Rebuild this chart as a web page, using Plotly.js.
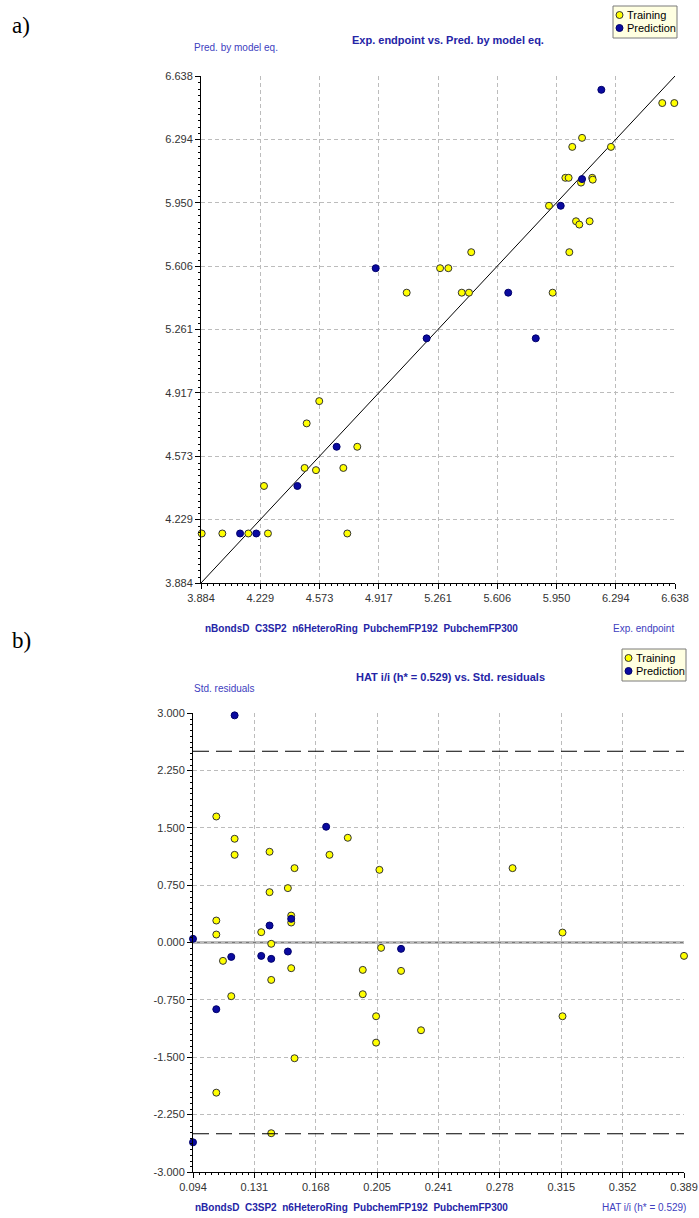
<!DOCTYPE html>
<html><head><meta charset="utf-8">
<script src="https://cdn.plot.ly/plotly-3.0.1.min.js"></script>
<style>html,body{margin:0;padding:0;background:#fff}#chart{width:699px;height:1218px}</style>
</head><body><div id="chart"></div>
<script>
// ---------- Panel a data: Exp. endpoint vs. Pred. by model eq. ----------
const trainA_exp  = [3.888, 4.008, 4.159, 4.273, 4.734, 4.250, 4.486, 4.552, 4.711, 4.792, 4.498, 4.571,
                     5.079, 5.273, 5.321, 5.399, 5.441, 5.454, 5.927, 5.906, 6.024, 6.063, 6.082, 6.142,
                     6.001, 6.020, 6.092, 6.157, 6.160, 6.041, 6.098, 6.266, 6.564, 6.634];
const trainA_pred = [4.153, 4.153, 4.153, 4.153, 4.153, 4.411, 4.509, 4.497, 4.509, 4.624, 4.751, 4.872,
                     5.461, 5.594, 5.594, 5.461, 5.461, 5.681, 5.461, 5.933, 5.681, 5.849, 5.831, 5.849,
                     6.085, 6.085, 6.059, 6.085, 6.075, 6.253, 6.302, 6.253, 6.491, 6.491];
const predA_exp   = [4.111, 4.205, 4.444, 4.672, 4.899, 5.195, 5.669, 5.829, 5.974, 6.098, 6.210];
const predA_pred  = [4.153, 4.153, 4.411, 4.624, 5.594, 5.213, 5.461, 5.213, 5.933, 6.078, 6.563];
const ticksA      = ["3.884", "4.229", "4.573", "4.917", "5.261", "5.606", "5.950", "6.294", "6.638"];

// ---------- Panel b data: HAT i/i vs. Std. residuals ----------
const trainB_hat = [0.108, 0.119, 0.187, 0.119, 0.140, 0.176, 0.155, 0.206, 0.151, 0.140, 0.286, 0.153,
                    0.153, 0.108, 0.108, 0.135, 0.141, 0.207, 0.112, 0.153, 0.196, 0.219, 0.141, 0.196,
                    0.117, 0.204, 0.231, 0.204, 0.155, 0.316, 0.389, 0.316, 0.108, 0.141];
const trainB_res = [1.647, 1.356, 1.369, 1.146, 1.186, 1.146, 0.972, 0.950, 0.711, 0.658, 0.972, 0.352,
                    0.261, 0.287, 0.104, 0.135, -0.017, -0.070, -0.240, -0.336, -0.358, -0.371, -0.489, -0.676,
                    -0.702, -0.964, -1.147, -1.309, -1.513, 0.130, -0.175, -0.964, -1.963, -2.493];
const predB_hat  = [0.119, 0.174, 0.153, 0.140, 0.094, 0.151, 0.219, 0.117, 0.135, 0.141, 0.108, 0.094];
const predB_res  = [2.969, 1.513, 0.309, 0.222, 0.048, -0.118, -0.083, -0.188, -0.175, -0.214, -0.872, -2.612];
const ticksBx    = ["0.094", "0.131", "0.168", "0.205", "0.241", "0.278", "0.315", "0.352", "0.389"];
const ticksBy    = ["-3.000", "-2.250", "-1.500", "-0.750", "0.000", "0.750", "1.500", "2.250", "3.000"];
const stdResLimit = 2.5;
const seriesNames = ["Training", "Prediction"];

// ---------- styling ----------
const W = 699, H = 1218;
const FONT = "Liberation Sans, Arial, sans-serif";
const px = x => x / W;
const py = y => 1 - y / H;
const yellow = "#ffff00", navy = "#0a0aa0";
const titleBlue = "#2424a6", labelBlue = "#4040c0";

function bounds(labels) {
  const lo = parseFloat(labels[0]), hi = parseFloat(labels[labels.length - 1]);
  return {lo: lo, hi: hi, step: (hi - lo) / (labels.length - 1), n: labels.length - 1};
}
function axis(labels, domain, anchor) {
  const b = bounds(labels);
  const alias = {};
  labels.forEach((lab, i) => {
    const v = b.lo + i * b.step;
    [v - 1e-9, v, v + 1e-9].forEach(t => {
      const s = t.toFixed(3);
      alias[s] = lab;
      alias[s.replace("-", "\u2212")] = lab;
    });
  });
  return {
    domain: domain, anchor: anchor, range: [b.lo - b.step * 1e-6, b.hi + b.step * 1e-6],
    tickmode: "linear", tick0: b.lo, dtick: b.step, tickformat: ".3f", labelalias: alias,
    ticks: "outside", ticklen: 5, tickwidth: 1, tickcolor: "#000",
    showline: true, linecolor: "#000", linewidth: 1,
    showgrid: true, gridcolor: "#bcbcbc", griddash: "4px,3px", gridwidth: 1,
    zeroline: false,
    tickfont: {family: FONT, size: 11, color: "#333"},
    fixedrange: true
  };
}

const mk = (col, lc) => ({symbol: "circle", size: 7, color: col, line: {color: lc, width: 1}});
const diag = [parseFloat(ticksA[0]), parseFloat(ticksA[ticksA.length - 1])];

const traces = [
  {x: diag, y: diag, mode: "lines", line: {color: "#000", width: 1}, xaxis: "x", yaxis: "y", hoverinfo: "skip", showlegend: false},
  {x: trainA_exp, y: trainA_pred, mode: "markers", name: seriesNames[0], marker: mk(yellow, "#333"), xaxis: "x", yaxis: "y", cliponaxis: false},
  {x: predA_exp, y: predA_pred, mode: "markers", name: seriesNames[1], marker: mk(navy, "#00006a"), xaxis: "x", yaxis: "y", cliponaxis: false},
  {x: trainB_hat, y: trainB_res, mode: "markers", name: seriesNames[0], marker: mk(yellow, "#333"), xaxis: "x2", yaxis: "y2", cliponaxis: false},
  {x: predB_hat, y: predB_res, mode: "markers", name: seriesNames[1], marker: mk(navy, "#00006a"), xaxis: "x2", yaxis: "y2", cliponaxis: false}
];

// plot-area pixel boxes
const A = {l: 201, r: 675, t: 76, b: 583};
const B = {l: 193, r: 684, t: 713, b: 1172};

const shapes = [
  {type: "line", xref: "x2 domain", yref: "y2", x0: 0, x1: 1, y0: stdResLimit, y1: stdResLimit, line: {color: "#000", width: 1, dash: "16px,7px"}},
  {type: "line", xref: "x2 domain", yref: "y2", x0: 0, x1: 1, y0: -stdResLimit, y1: -stdResLimit, line: {color: "#000", width: 1, dash: "16px,7px"}},
  {type: "line", xref: "x2 domain", yref: "y2", x0: 0, x1: 1, y0: 0, y1: 0, line: {color: "#7a7a7a", width: 2}, layer: "below"}
];
// small minor tick marks along each axis line (10 per major interval)
function minorTicks(box, nx, ny) {
  for (let i = 1; i < nx * 10; i++) {
    if (i % 10 === 0) continue;
    const x = Math.round(box.l + i * (box.r - box.l) / (nx * 10)) + 0.5;
    shapes.push({type: "line", xref: "paper", yref: "paper", x0: px(x), x1: px(x), y0: py(box.b), y1: py(box.b + 3),
      line: {color: "#000", width: 1}});
  }
  for (let i = 1; i < ny * 10; i++) {
    if (i % 10 === 0) continue;
    const y = Math.round(box.b - i * (box.b - box.t) / (ny * 10)) + 0.5;
    shapes.push({type: "line", xref: "paper", yref: "paper", x0: px(box.l - 3), x1: px(box.l), y0: py(y), y1: py(y),
      line: {color: "#000", width: 1}});
  }
}
minorTicks(A, ticksA.length - 1, ticksA.length - 1);
minorTicks(B, ticksBx.length - 1, ticksBy.length - 1);

const annotations = [];
function txt(text, x, y, xa, size, color, family) {
  annotations.push({text: text, xref: "paper", yref: "paper", x: px(x), y: py(y), xanchor: xa, yanchor: "middle",
    showarrow: false, font: {family: family || FONT, size: size, color: color}});
}
function legendBox(l, t, r, b) {
  shapes.push({type: "rect", xref: "paper", yref: "paper", x0: px(l), x1: px(r), y0: py(b), y1: py(t),
    fillcolor: "#ffffe1", line: {color: "#7a7a7a", width: 1}});
  const rows = [t + 9, t + 22];
  const fills = [[yellow, "#333"], [navy, "#00006a"]];
  rows.forEach((yy, i) => {
    shapes.push({type: "circle", xref: "paper", yref: "paper", x0: px(l + 3), x1: px(l + 10), y0: py(yy + 3.5), y1: py(yy - 3.5),
      fillcolor: fills[i][0], line: {color: fills[i][1], width: 1}});
    txt(seriesNames[i], l + 12, yy, "left", 11, "#000");
  });
}
legendBox(613, 6, 677, 38);
legendBox(622, 649, 686, 681);

txt("a)", 10, 26, "left", 23, "#000", "Liberation Serif, Times New Roman, serif");
txt("b)", 10, 640, "left", 23, "#000", "Liberation Serif, Times New Roman, serif");
txt("<b>Exp. endpoint vs. Pred. by model eq.</b>", 448, 40, "center", 11, titleBlue);
txt("Pred. by model eq.", 192, 47, "left", 10, labelBlue);
txt("<b>nBondsD  C3SP2  n6HeteroRing  PubchemFP192  PubchemFP300</b>", 203, 628, "left", 10, titleBlue);
txt("Exp. endpoint", 676, 628, "right", 10, labelBlue);
txt("<b>HAT i/i (h* = 0.529) vs. Std. residuals</b>", 450, 677, "center", 11, titleBlue);
txt("Std. residuals", 192, 688, "left", 10, labelBlue);
txt("<b>nBondsD  C3SP2  n6HeteroRing  PubchemFP192  PubchemFP300</b>", 193, 1207, "left", 10, titleBlue);
txt("HAT i/i (h* = 0.529)", 688, 1207, "right", 10, labelBlue);

const layout = {
  width: W, height: H, margin: {l: 0, r: 0, t: 0, b: 0},
  paper_bgcolor: "#fff", plot_bgcolor: "#fff", showlegend: false,
  font: {family: FONT, size: 11, color: "#333"},
  xaxis: axis(ticksA, [px(A.l), px(A.r)], "y"),
  yaxis: axis(ticksA, [py(A.b), py(A.t)], "x"),
  xaxis2: axis(ticksBx, [px(B.l), px(B.r)], "y2"),
  yaxis2: axis(ticksBy, [py(B.b), py(B.t)], "x2"),
  shapes: shapes, annotations: annotations
};
Plotly.newPlot("chart", traces, layout, {staticPlot: true, displayModeBar: false});
</script></body></html>
